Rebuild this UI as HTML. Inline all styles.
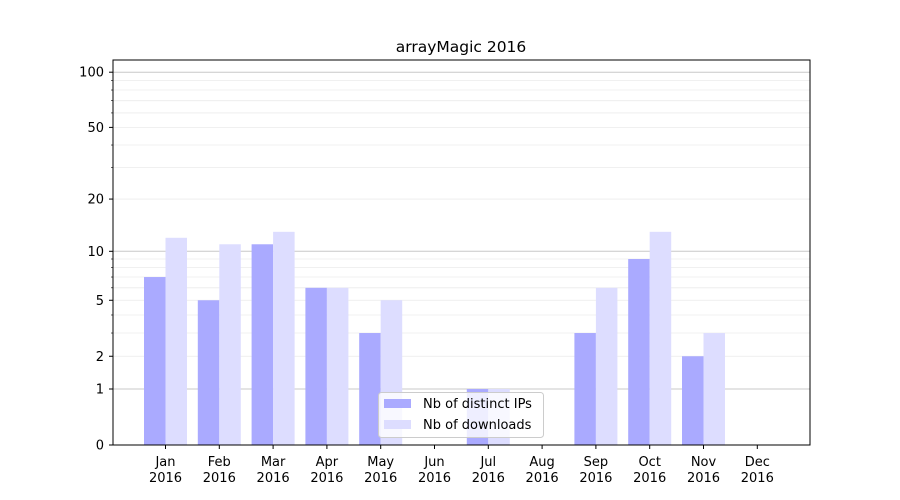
<!DOCTYPE html>
<html><head><meta charset="utf-8"><style>body{margin:0;background:#fff}svg{display:block;font-family:"DejaVu Sans","Liberation Sans",sans-serif}</style></head>
<body><svg id="s" width="900" height="500" xmlns="http://www.w3.org/2000/svg"></svg>
<script>
const s=document.getElementById('s');
const Y=v=>445-186*Math.log10(1+v);
let h='<rect width="900" height="500" fill="#fff"/>';
// grid
const minor=[2,3,4,5,6,7,8,9,20,30,40,50,60,70,80,90];
minor.forEach(v=>{h+=`<line x1="113" x2="810" y1="${Y(v)}" y2="${Y(v)}" stroke="#ebebeb" stroke-width="0.8"/>`});
[1,10,100].forEach(v=>{h+=`<line x1="113" x2="810" y1="${Y(v)}" y2="${Y(v)}" stroke="#c8c8c8" stroke-width="1"/>`});
const d=[7,5,11,6,3,0,1,0,3,9,2,0], n=[12,11,13,6,5,0,1,0,6,13,3,0];
const m=['Jan','Feb','Mar','Apr','May','Jun','Jul','Aug','Sep','Oct','Nov','Dec'];
const cx=i=>165.5+i*53.8;
for(let i=0;i<12;i++){
 const c=cx(i);
 if(d[i])h+=`<rect x="${c-21.5}" y="${Y(d[i])}" width="21.5" height="${445-Y(d[i])}" fill="#aaaaff"/>`;
 if(n[i])h+=`<rect x="${c}" y="${Y(n[i])}" width="21.5" height="${445-Y(n[i])}" fill="#ddddff"/>`;
 h+=`<line x1="${c}" x2="${c}" y1="445" y2="449" stroke="#000"/>`;
 h+=`<text x="${c}" y="466" font-size="13" text-anchor="middle">${m[i]}</text><text x="${c}" y="482" font-size="13" text-anchor="middle">2016</text>`;
}
[[0,'0'],[1,'1'],[2,'2'],[5,'5'],[10,'10'],[20,'20'],[50,'50'],[100,'100']].forEach(([v,t])=>{
 const y=Y(v);h+=`<line x1="109" x2="113" y1="${y}" y2="${y}" stroke="#000"/><text x="104" y="${y+4.5}" font-size="13" text-anchor="end">${t}</text>`;
});
minor.forEach(v=>{if(![2,5,20,50].includes(v)){const y=Y(v);h+=`<line x1="111" x2="113" y1="${y}" y2="${y}" stroke="#000" stroke-width="0.6"/>`}});
h+=`<rect x="113" y="60" width="697" height="385" fill="none" stroke="#000" stroke-width="1"/>`;
h+=`<text x="461" y="52" font-size="15.5" text-anchor="middle">arrayMagic 2016</text>`;
h+=`<rect x="378.5" y="392.5" width="165" height="45" rx="3" fill="#fff" fill-opacity="0.8" stroke="#ccc"/>`;
h+=`<rect x="384" y="399" width="27" height="9" fill="#aaaaff"/><text x="423" y="408" font-size="13">Nb of distinct IPs</text>`;
h+=`<rect x="384" y="420" width="27" height="9" fill="#ddddff"/><text x="423" y="429" font-size="13">Nb of downloads</text>`;
s.innerHTML=h;
</script></body></html>
